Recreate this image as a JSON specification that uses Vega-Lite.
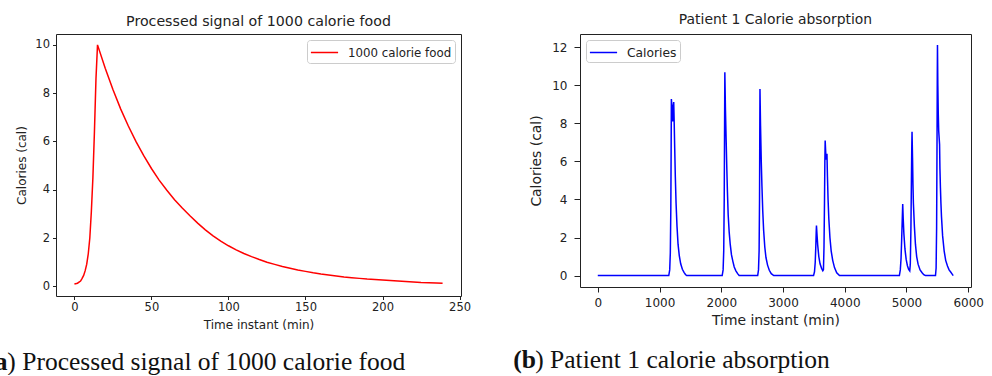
{
  "$schema": "https://vega.github.io/schema/vega-lite/v6.json",
  "background": "white",
  "padding": {"left": -14, "top": 12, "right": 0, "bottom": 0},
  "spacing": 41,
  "resolve": {"scale": {"color": "independent"}, "legend": {"color": "independent"}},
  "config": {
    "font": "DejaVu Sans",
    "view": {"stroke": "#222222", "strokeWidth": 1},
    "axis": {"grid": false, "domain": false, "tickColor": "#222222", "labelColor": "#222222", "titleColor": "#222222", "titleFontWeight": "normal", "labelFont": "DejaVu Sans", "titleFont": "DejaVu Sans"},
    "title": {"font": "DejaVu Sans", "fontWeight": "normal", "color": "#222222"},
    "legend": {"strokeColor": "#cccccc", "fillColor": "white", "cornerRadius": 3, "symbolType": "M-1.6,0H1.6", "symbolSize": 289, "symbolOffset": 5, "labelOffset": 14, "padding": 3, "labelFont": "DejaVu Sans", "labelColor": "#222222", "title": null}
  },
  "datasets": {
    "food": [
      {"t": 0, "v": 0.1, "s": "1000 calorie food"},
      {"t": 2, "v": 0.13, "s": "1000 calorie food"},
      {"t": 4, "v": 0.22, "s": "1000 calorie food"},
      {"t": 5, "v": 0.33, "s": "1000 calorie food"},
      {"t": 6, "v": 0.45, "s": "1000 calorie food"},
      {"t": 7, "v": 0.65, "s": "1000 calorie food"},
      {"t": 8, "v": 0.92, "s": "1000 calorie food"},
      {"t": 9, "v": 1.35, "s": "1000 calorie food"},
      {"t": 10, "v": 2.0, "s": "1000 calorie food"},
      {"t": 11, "v": 3.1, "s": "1000 calorie food"},
      {"t": 12, "v": 4.5, "s": "1000 calorie food"},
      {"t": 13, "v": 6.4, "s": "1000 calorie food"},
      {"t": 14, "v": 8.6, "s": "1000 calorie food"},
      {"t": 15, "v": 10.0, "s": "1000 calorie food"},
      {"t": 20, "v": 9.03, "s": "1000 calorie food"},
      {"t": 25, "v": 8.15, "s": "1000 calorie food"},
      {"t": 30, "v": 7.35, "s": "1000 calorie food"},
      {"t": 35, "v": 6.64, "s": "1000 calorie food"},
      {"t": 40, "v": 5.99, "s": "1000 calorie food"},
      {"t": 45, "v": 5.41, "s": "1000 calorie food"},
      {"t": 50, "v": 4.88, "s": "1000 calorie food"},
      {"t": 55, "v": 4.40, "s": "1000 calorie food"},
      {"t": 60, "v": 3.98, "s": "1000 calorie food"},
      {"t": 65, "v": 3.59, "s": "1000 calorie food"},
      {"t": 70, "v": 3.24, "s": "1000 calorie food"},
      {"t": 75, "v": 2.92, "s": "1000 calorie food"},
      {"t": 80, "v": 2.62, "s": "1000 calorie food"},
      {"t": 85, "v": 2.34, "s": "1000 calorie food"},
      {"t": 90, "v": 2.09, "s": "1000 calorie food"},
      {"t": 95, "v": 1.87, "s": "1000 calorie food"},
      {"t": 100, "v": 1.68, "s": "1000 calorie food"},
      {"t": 105, "v": 1.51, "s": "1000 calorie food"},
      {"t": 110, "v": 1.36, "s": "1000 calorie food"},
      {"t": 115, "v": 1.23, "s": "1000 calorie food"},
      {"t": 120, "v": 1.11, "s": "1000 calorie food"},
      {"t": 125, "v": 1.00, "s": "1000 calorie food"},
      {"t": 130, "v": 0.91, "s": "1000 calorie food"},
      {"t": 135, "v": 0.82, "s": "1000 calorie food"},
      {"t": 140, "v": 0.75, "s": "1000 calorie food"},
      {"t": 145, "v": 0.68, "s": "1000 calorie food"},
      {"t": 150, "v": 0.62, "s": "1000 calorie food"},
      {"t": 155, "v": 0.56, "s": "1000 calorie food"},
      {"t": 160, "v": 0.51, "s": "1000 calorie food"},
      {"t": 165, "v": 0.47, "s": "1000 calorie food"},
      {"t": 170, "v": 0.43, "s": "1000 calorie food"},
      {"t": 175, "v": 0.39, "s": "1000 calorie food"},
      {"t": 180, "v": 0.36, "s": "1000 calorie food"},
      {"t": 185, "v": 0.33, "s": "1000 calorie food"},
      {"t": 190, "v": 0.30, "s": "1000 calorie food"},
      {"t": 195, "v": 0.28, "s": "1000 calorie food"},
      {"t": 200, "v": 0.26, "s": "1000 calorie food"},
      {"t": 205, "v": 0.24, "s": "1000 calorie food"},
      {"t": 210, "v": 0.22, "s": "1000 calorie food"},
      {"t": 215, "v": 0.20, "s": "1000 calorie food"},
      {"t": 220, "v": 0.18, "s": "1000 calorie food"},
      {"t": 225, "v": 0.16, "s": "1000 calorie food"},
      {"t": 230, "v": 0.15, "s": "1000 calorie food"},
      {"t": 235, "v": 0.14, "s": "1000 calorie food"},
      {"t": 239, "v": 0.13, "s": "1000 calorie food"}
    ],
    "patient": [
      {"t": 0, "v": 0, "s": "Calories"},
      {"t": 1150, "v": 0, "s": "Calories"},
      {"t": 1165, "v": 0.3, "s": "Calories"},
      {"t": 1175, "v": 1.2, "s": "Calories"},
      {"t": 1183, "v": 3.5, "s": "Calories"},
      {"t": 1188, "v": 6.5, "s": "Calories"},
      {"t": 1192, "v": 9.28, "s": "Calories"},
      {"t": 1200, "v": 8.9, "s": "Calories"},
      {"t": 1212, "v": 8.1, "s": "Calories"},
      {"t": 1222, "v": 8.9, "s": "Calories"},
      {"t": 1230, "v": 9.12, "s": "Calories"},
      {"t": 1238, "v": 8.0, "s": "Calories"},
      {"t": 1246, "v": 6.7, "s": "Calories"},
      {"t": 1256, "v": 5.2, "s": "Calories"},
      {"t": 1268, "v": 3.8, "s": "Calories"},
      {"t": 1283, "v": 2.6, "s": "Calories"},
      {"t": 1300, "v": 1.65, "s": "Calories"},
      {"t": 1320, "v": 1.05, "s": "Calories"},
      {"t": 1343, "v": 0.62, "s": "Calories"},
      {"t": 1370, "v": 0.33, "s": "Calories"},
      {"t": 1397, "v": 0.17, "s": "Calories"},
      {"t": 1420, "v": 0.06, "s": "Calories"},
      {"t": 1440, "v": 0, "s": "Calories"},
      {"t": 2015, "v": 0, "s": "Calories"},
      {"t": 2030, "v": 0.3, "s": "Calories"},
      {"t": 2040, "v": 1.3, "s": "Calories"},
      {"t": 2048, "v": 4.0, "s": "Calories"},
      {"t": 2054, "v": 8.0, "s": "Calories"},
      {"t": 2058, "v": 10.69, "s": "Calories"},
      {"t": 2068, "v": 8.7, "s": "Calories"},
      {"t": 2080, "v": 7.0, "s": "Calories"},
      {"t": 2091, "v": 5.5, "s": "Calories"},
      {"t": 2100, "v": 4.4, "s": "Calories"},
      {"t": 2112, "v": 3.2, "s": "Calories"},
      {"t": 2128, "v": 2.3, "s": "Calories"},
      {"t": 2145, "v": 1.65, "s": "Calories"},
      {"t": 2165, "v": 1.1, "s": "Calories"},
      {"t": 2188, "v": 0.75, "s": "Calories"},
      {"t": 2210, "v": 0.45, "s": "Calories"},
      {"t": 2237, "v": 0.25, "s": "Calories"},
      {"t": 2265, "v": 0.1, "s": "Calories"},
      {"t": 2290, "v": 0, "s": "Calories"},
      {"t": 2590, "v": 0, "s": "Calories"},
      {"t": 2603, "v": 0.3, "s": "Calories"},
      {"t": 2613, "v": 1.3, "s": "Calories"},
      {"t": 2620, "v": 4.0, "s": "Calories"},
      {"t": 2624, "v": 7.5, "s": "Calories"},
      {"t": 2627, "v": 9.81, "s": "Calories"},
      {"t": 2636, "v": 7.9, "s": "Calories"},
      {"t": 2648, "v": 6.0, "s": "Calories"},
      {"t": 2659, "v": 4.7, "s": "Calories"},
      {"t": 2672, "v": 3.4, "s": "Calories"},
      {"t": 2686, "v": 2.4, "s": "Calories"},
      {"t": 2705, "v": 1.5, "s": "Calories"},
      {"t": 2724, "v": 0.95, "s": "Calories"},
      {"t": 2750, "v": 0.55, "s": "Calories"},
      {"t": 2778, "v": 0.28, "s": "Calories"},
      {"t": 2810, "v": 0.1, "s": "Calories"},
      {"t": 2850, "v": 0, "s": "Calories"},
      {"t": 3495, "v": 0, "s": "Calories"},
      {"t": 3510, "v": 0.2, "s": "Calories"},
      {"t": 3522, "v": 0.7, "s": "Calories"},
      {"t": 3532, "v": 1.6, "s": "Calories"},
      {"t": 3538, "v": 2.3, "s": "Calories"},
      {"t": 3542, "v": 2.63, "s": "Calories"},
      {"t": 3550, "v": 2.2, "s": "Calories"},
      {"t": 3562, "v": 1.6, "s": "Calories"},
      {"t": 3580, "v": 1.0, "s": "Calories"},
      {"t": 3600, "v": 0.62, "s": "Calories"},
      {"t": 3625, "v": 0.38, "s": "Calories"},
      {"t": 3645, "v": 0.25, "s": "Calories"},
      {"t": 3655, "v": 0.3, "s": "Calories"},
      {"t": 3664, "v": 1.5, "s": "Calories"},
      {"t": 3672, "v": 3.8, "s": "Calories"},
      {"t": 3678, "v": 6.0, "s": "Calories"},
      {"t": 3683, "v": 7.1, "s": "Calories"},
      {"t": 3690, "v": 6.6, "s": "Calories"},
      {"t": 3697, "v": 6.1, "s": "Calories"},
      {"t": 3705, "v": 6.3, "s": "Calories"},
      {"t": 3712, "v": 6.4, "s": "Calories"},
      {"t": 3720, "v": 5.2, "s": "Calories"},
      {"t": 3730, "v": 4.0, "s": "Calories"},
      {"t": 3742, "v": 3.0, "s": "Calories"},
      {"t": 3760, "v": 2.0, "s": "Calories"},
      {"t": 3780, "v": 1.3, "s": "Calories"},
      {"t": 3805, "v": 0.8, "s": "Calories"},
      {"t": 3834, "v": 0.42, "s": "Calories"},
      {"t": 3870, "v": 0.15, "s": "Calories"},
      {"t": 3915, "v": 0, "s": "Calories"},
      {"t": 4885, "v": 0, "s": "Calories"},
      {"t": 4900, "v": 0.3, "s": "Calories"},
      {"t": 4912, "v": 0.9, "s": "Calories"},
      {"t": 4922, "v": 1.9, "s": "Calories"},
      {"t": 4932, "v": 3.0, "s": "Calories"},
      {"t": 4939, "v": 3.76, "s": "Calories"},
      {"t": 4947, "v": 3.0, "s": "Calories"},
      {"t": 4958, "v": 2.2, "s": "Calories"},
      {"t": 4975, "v": 1.4, "s": "Calories"},
      {"t": 4995, "v": 0.85, "s": "Calories"},
      {"t": 5015, "v": 0.52, "s": "Calories"},
      {"t": 5035, "v": 0.33, "s": "Calories"},
      {"t": 5053, "v": 0.25, "s": "Calories"},
      {"t": 5062, "v": 0.6, "s": "Calories"},
      {"t": 5072, "v": 2.5, "s": "Calories"},
      {"t": 5080, "v": 5.0, "s": "Calories"},
      {"t": 5086, "v": 6.8, "s": "Calories"},
      {"t": 5090, "v": 7.56, "s": "Calories"},
      {"t": 5098, "v": 6.2, "s": "Calories"},
      {"t": 5105, "v": 4.8, "s": "Calories"},
      {"t": 5112, "v": 3.8, "s": "Calories"},
      {"t": 5128, "v": 2.6, "s": "Calories"},
      {"t": 5145, "v": 1.65, "s": "Calories"},
      {"t": 5165, "v": 1.0, "s": "Calories"},
      {"t": 5188, "v": 0.6, "s": "Calories"},
      {"t": 5220, "v": 0.3, "s": "Calories"},
      {"t": 5253, "v": 0.15, "s": "Calories"},
      {"t": 5280, "v": 0.05, "s": "Calories"},
      {"t": 5307, "v": 0, "s": "Calories"},
      {"t": 5470, "v": 0, "s": "Calories"},
      {"t": 5480, "v": 0.4, "s": "Calories"},
      {"t": 5488, "v": 2.5, "s": "Calories"},
      {"t": 5494, "v": 6.5, "s": "Calories"},
      {"t": 5499, "v": 10.5, "s": "Calories"},
      {"t": 5502, "v": 12.12, "s": "Calories"},
      {"t": 5508, "v": 10.0, "s": "Calories"},
      {"t": 5515, "v": 8.5, "s": "Calories"},
      {"t": 5522, "v": 7.6, "s": "Calories"},
      {"t": 5530, "v": 7.2, "s": "Calories"},
      {"t": 5536, "v": 6.9, "s": "Calories"},
      {"t": 5542, "v": 5.6, "s": "Calories"},
      {"t": 5550, "v": 4.6, "s": "Calories"},
      {"t": 5558, "v": 3.8, "s": "Calories"},
      {"t": 5567, "v": 3.1, "s": "Calories"},
      {"t": 5585, "v": 2.1, "s": "Calories"},
      {"t": 5610, "v": 1.3, "s": "Calories"},
      {"t": 5635, "v": 0.8, "s": "Calories"},
      {"t": 5664, "v": 0.5, "s": "Calories"},
      {"t": 5690, "v": 0.3, "s": "Calories"},
      {"t": 5713, "v": 0.2, "s": "Calories"},
      {"t": 5740, "v": 0.08, "s": "Calories"},
      {"t": 5757, "v": 0, "s": "Calories"}
    ]
  },
  "hconcat": [
    {
      "title": {"text": "(a", "orient": "bottom", "anchor": "start", "frame": "bounds", "font": "Liberation Serif", "fontSize": 25.5, "fontWeight": "bold", "color": "#111111", "offset": -25.5, "dx": -21},
      "resolve": {"scale": {"color": "independent"}, "legend": {"color": "independent"}},
      "vconcat": [
        {
          "title": {"text": ") Processed signal of 1000 calorie food", "orient": "bottom", "anchor": "start", "frame": "bounds", "font": "Liberation Serif", "fontSize": 25.5, "fontWeight": "normal", "color": "#111111", "offset": 19, "dx": -8},
          "resolve": {"scale": {"color": "independent"}, "legend": {"color": "independent"}},
          "vconcat": [
            {
              "width": 405,
              "height": 262,
              "title": {"text": "Processed signal of 1000 calorie food", "fontSize": 14.2, "offset": 5, "anchor": "middle"},
              "data": {"name": "food"},
              "mark": {"type": "line", "strokeWidth": 1.5, "clip": true},
              "encoding": {
                "x": {"field": "t", "type": "quantitative", "scale": {"domain": [-11.95, 250.95], "nice": false, "zero": false},
                      "axis": {"values": [0, 50, 100, 150, 200, 250], "title": "Time instant (min)", "labelFontSize": 11.5, "titleFontSize": 12, "tickSize": 3.5, "labelPadding": 2, "titlePadding": 6}},
                "y": {"field": "v", "type": "quantitative", "scale": {"domain": [-0.4, 10.45], "nice": false, "zero": false},
                      "axis": {"values": [0, 2, 4, 6, 8, 10], "title": "Calories (cal)", "labelFontSize": 11.5, "titleFontSize": 12, "tickSize": 3.5, "labelPadding": 3, "titlePadding": 6}},
                "color": {"field": "s", "type": "nominal", "scale": {"range": ["#ff0000"]},
                          "legend": {"orient": "top-right", "offset": 6, "labelFontSize": 11.8, "symbolStrokeWidth": 1.5}}
              }
            }
          ]
        }
      ]
    },
    {
      "title": {"text": "(b", "orient": "bottom", "anchor": "start", "frame": "bounds", "font": "Liberation Serif", "fontSize": 25.5, "fontWeight": "bold", "color": "#111111", "offset": -25.5, "dx": -16},
      "resolve": {"scale": {"color": "independent"}, "legend": {"color": "independent"}},
      "vconcat": [
        {
          "title": {"text": ") Patient 1 calorie absorption", "orient": "bottom", "anchor": "start", "frame": "bounds", "font": "Liberation Serif", "fontSize": 25.5, "fontWeight": "normal", "color": "#111111", "offset": 21, "dx": 6},
          "resolve": {"scale": {"color": "independent"}, "legend": {"color": "independent"}},
          "vconcat": [
            {
              "width": 391,
              "height": 253,
              "title": {"text": "Patient 1 Calorie absorption", "fontSize": 13.9, "offset": 7, "anchor": "middle"},
              "data": {"name": "patient"},
              "mark": {"type": "line", "strokeWidth": 1.5, "clip": true},
              "encoding": {
                "x": {"field": "t", "type": "quantitative", "scale": {"domain": [-288, 6045], "nice": false, "zero": false},
                      "axis": {"values": [0, 1000, 2000, 3000, 4000, 5000, 6000], "format": "d", "title": "Time instant (min)", "labelFontSize": 12, "titleFontSize": 13.9, "tickSize": 5, "labelPadding": 5, "titlePadding": 5}},
                "y": {"field": "v", "type": "quantitative", "scale": {"domain": [-0.6, 12.7], "nice": false, "zero": false},
                      "axis": {"values": [0, 2, 4, 6, 8, 10, 12], "title": "Calories (cal)", "labelFontSize": 12, "titleFontSize": 13.9, "tickSize": 6, "labelPadding": 7, "titlePadding": 8}},
                "color": {"field": "s", "type": "nominal", "scale": {"range": ["#0000ff"]},
                          "legend": {"orient": "top-left", "offset": 6, "labelFontSize": 12.3, "symbolStrokeWidth": 1.5}}
              }
            }
          ]
        }
      ]
    }
  ]
}
